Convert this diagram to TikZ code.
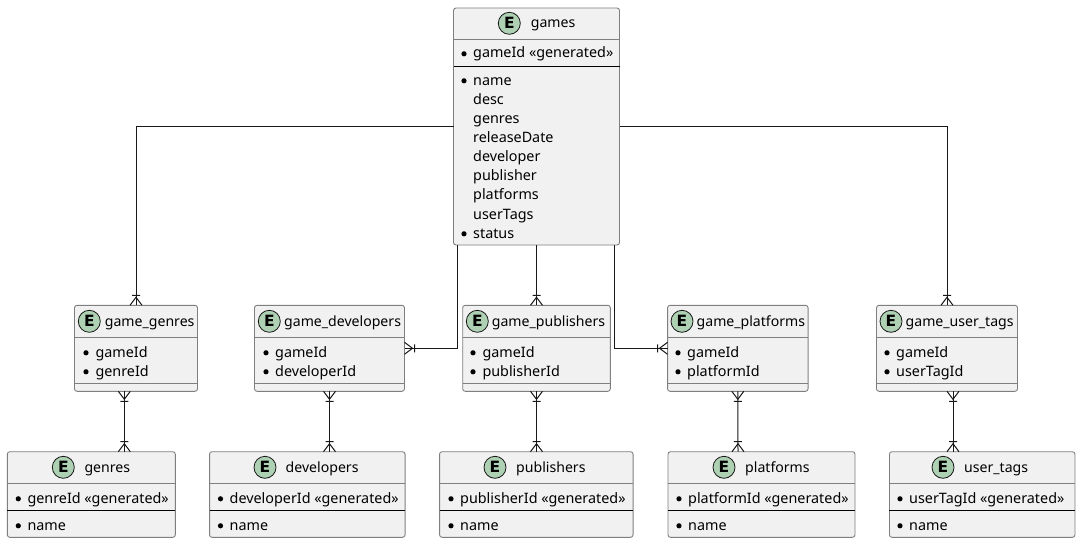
\documentclass[tikz,border=0pt]{standalone}
\usepackage{fontspec}
\setmainfont{Noto Sans}
\newfontfamily\spotfont{DejaVu Sans}
\usetikzlibrary{arrows.meta}
\definecolor{entityfill}{HTML}{F1F1F1}
\definecolor{entityedge}{HTML}{7F7F7F}
\definecolor{spotgreen}{HTML}{ADD1B2}
\definecolor{relink}{HTML}{181818}

\pgfdeclarearrow{
  name=crowbar,
  setup code={\pgfarrowssettipend{0pt}\pgfarrowssetlineend{0pt}\pgfarrowssetbackend{-10pt}\pgfarrowssetvisualbackend{-10pt}},
  drawing code={
    \pgfsetdash{}{0pt}
    \pgfpathmoveto{\pgfqpoint{0pt}{6pt}}
    \pgfpathlineto{\pgfqpoint{-8pt}{0pt}}
    \pgfpathlineto{\pgfqpoint{0pt}{-6pt}}
    \pgfpathmoveto{\pgfqpoint{-10pt}{4pt}}
    \pgfpathlineto{\pgfqpoint{-10pt}{-4pt}}
    \pgfusepathqstroke
  }
}

\tikzset{
  entitybox/.style={draw=entityedge,fill=entityfill,line width=.9pt,rounded corners=2.5pt,inner sep=0pt,outer sep=0pt},
  spot/.style={circle,draw=relink,fill=spotgreen,line width=.8pt,minimum size=22pt,inner sep=0pt,font=\spotfont\fontsize{15.5}{15.5}\selectfont\bfseries},
  entitytext/.style={anchor=base west,inner sep=0pt,text=black},
  titletext/.style={entitytext,font=\fontsize{14.1}{17}\selectfont},
  headrule/.style={draw=entityedge,line width=.9pt},
  keyrule/.style={draw=black,line width=1pt},
  keydot/.style={fill=black},
  rel/.style={draw=relink,line width=1pt},
}

\begin{document}
\begin{tikzpicture}[x=1pt,y=-1pt,font=\fontsize{14.35}{17}\selectfont]
        \useasboundingbox (0,0) rectangle (1078,543);

        \node[entitybox,minimum width=166,minimum height=237] (games) at (536.5,126.5) {};
        \draw[headrule] (games.west |- 0,39.5) -- (games.east |- 0,39.5);
        \draw[keyrule] (games.west |- 0,66.5) -- (games.east |- 0,66.5);
        \node[spot] (gamesspot) at (509.3,23.3) {E};
        \node[titletext] (gamestitle) at (530.7,28) {games};
        \fill[keydot] (464,53.8) circle (2.6);
        \node[entitytext] (gameskey) at (473,58) {gameId «generated»};
        \fill[keydot] (464,80.8) circle (2.6);
        \node[entitytext] (gamesname) at (473,85) {name};
        \node[entitytext] (gamesdesc) at (473,104) {desc};
        \node[entitytext] (gamesgenres) at (473,123) {genres};
        \node[entitytext] (gamesdate) at (473,142) {releaseDate};
        \node[entitytext] (gamesdev) at (473,161) {developer};
        \node[entitytext] (gamespub) at (473,180) {publisher};
        \node[entitytext] (gamesplat) at (473,199) {platforms};
        \node[entitytext] (gamestags) at (473,219) {userTags};
        \fill[keydot] (464,233.8) circle (2.6);
        \node[entitytext] (gamesstatus) at (473,238) {status};

        \node[entitybox,minimum width=123,minimum height=86] (gamegenres) at (136,348.3) {};
        \draw[headrule] (gamegenres.west |- 0,337.3) -- (gamegenres.east |- 0,337.3);
        \draw[headrule] (gamegenres.west |- 0,383.3) -- (gamegenres.east |- 0,383.3);
        \node[spot] (gamegenresspot) at (89.3,321.3) {E};
        \node[titletext] (gamegenrestitle) at (104.7,326) {game\_genres};
        \fill[keydot] (86,352.8) circle (2.6);
        \node[entitytext] (gamegenresa) at (95.3,357) {gameId};
        \fill[keydot] (86,371.8) circle (2.6);
        \node[entitytext] (gamegenresb) at (95.3,376) {genreId};

        \node[entitybox,minimum width=150,minimum height=86] (gamedevelopers) at (329.5,348.3) {};
        \draw[headrule] (gamedevelopers.west |- 0,337.3) -- (gamedevelopers.east |- 0,337.3);
        \draw[headrule] (gamedevelopers.west |- 0,383.3) -- (gamedevelopers.east |- 0,383.3);
        \node[spot] (gamedevelopersspot) at (269.3,321.3) {E};
        \node[titletext] (gamedeveloperstitle) at (284,326) {game\_developers};
        \fill[keydot] (266,352.8) circle (2.6);
        \node[entitytext] (gamedevelopersa) at (275,357) {gameId};
        \fill[keydot] (266,371.8) circle (2.6);
        \node[entitytext] (gamedevelopersb) at (275,376) {developerId};

        \node[entitybox,minimum width=147.6,minimum height=86] (gamepublishers) at (536.5,348.3) {};
        \draw[headrule] (gamepublishers.west |- 0,337.3) -- (gamepublishers.east |- 0,337.3);
        \draw[headrule] (gamepublishers.west |- 0,383.3) -- (gamepublishers.east |- 0,383.3);
        \node[spot] (gamepublishersspot) at (477.3,321.3) {E};
        \node[titletext] (gamepublisherstitle) at (491.7,326) {game\_publishers};
        \fill[keydot] (473,352.8) circle (2.6);
        \node[entitytext] (gamepublishersa) at (482.3,357) {gameId};
        \fill[keydot] (473,371.8) circle (2.6);
        \node[entitytext] (gamepublishersb) at (482.3,376) {publisherId};

        \node[entitybox,minimum width=140.5,minimum height=86] (gameplatforms) at (737.8,348.3) {};
        \draw[headrule] (gameplatforms.west |- 0,337.3) -- (gameplatforms.east |- 0,337.3);
        \draw[headrule] (gameplatforms.west |- 0,383.3) -- (gameplatforms.east |- 0,383.3);
        \node[spot] (gameplatformsspot) at (682,321.3) {E};
        \node[titletext] (gameplatformstitle) at (696.5,326) {game\_platforms};
        \fill[keydot] (678,352.8) circle (2.6);
        \node[entitytext] (gameplatformsa) at (687,357) {gameId};
        \fill[keydot] (678,371.8) circle (2.6);
        \node[entitytext] (gameplatformsb) at (687,376) {platformId};

        \node[entitybox,minimum width=141,minimum height=86] (gameusertags) at (947,348.3) {};
        \draw[headrule] (gameusertags.west |- 0,337.3) -- (gameusertags.east |- 0,337.3);
        \draw[headrule] (gameusertags.west |- 0,383.3) -- (gameusertags.east |- 0,383.3);
        \node[spot] (gameusertagsspot) at (891,321.3) {E};
        \node[titletext] (gameusertagstitle) at (905.5,326) {game\_user\_tags};
        \fill[keydot] (887,352.8) circle (2.6);
        \node[entitytext] (gameusertagsa) at (896,357) {gameId};
        \fill[keydot] (887,371.8) circle (2.6);
        \node[entitytext] (gameusertagsb) at (896,376) {userTagId};

        \node[entitybox,minimum width=168,minimum height=85.6] (genres) at (91.3,494.5) {};
        \draw[headrule] (genres.west |- 0,483.3) -- (genres.east |- 0,483.3);
        \draw[keyrule] (genres.west |- 0,510.5) -- (genres.east |- 0,510.5);
        \node[spot] (genresspot) at (63.3,467.3) {E};
        \node[titletext] (genrestitle) at (84.3,472) {genres};
        \fill[keydot] (18.3,498.8) circle (2.6);
        \node[entitytext] (genreskey) at (27.3,503) {genreId «generated»};
        \fill[keydot] (18.3,525.8) circle (2.6);
        \node[entitytext] (genresname) at (27.3,530) {name};

        \node[entitybox,minimum width=195.5,minimum height=85.6] (developers) at (307.3,494.5) {};
        \draw[headrule] (developers.west |- 0,483.3) -- (developers.east |- 0,483.3);
        \draw[keyrule] (developers.west |- 0,510.5) -- (developers.east |- 0,510.5);
        \node[spot] (developersspot) at (265,467.3) {E};
        \node[titletext] (developerstitle) at (285.5,472) {developers};
        \fill[keydot] (220.5,498.8) circle (2.6);
        \node[entitytext] (developerskey) at (229.5,503) {developerId «generated»};
        \fill[keydot] (220.5,525.8) circle (2.6);
        \node[entitytext] (developersname) at (229.5,530) {name};

        \node[entitybox,minimum width=193.5,minimum height=85.6] (publishers) at (536.3,494.5) {};
        \draw[headrule] (publishers.west |- 0,483.3) -- (publishers.east |- 0,483.3);
        \draw[keyrule] (publishers.west |- 0,510.5) -- (publishers.east |- 0,510.5);
        \node[spot] (publishersspot) at (495,467.3) {E};
        \node[titletext] (publisherstitle) at (516,472) {publishers};
        \fill[keydot] (451,498.8) circle (2.6);
        \node[entitytext] (publisherskey) at (460,503) {publisherId «generated»};
        \fill[keydot] (451,525.8) circle (2.6);
        \node[entitytext] (publishersname) at (460,530) {name};

        \node[entitybox,minimum width=187,minimum height=85.6] (platforms) at (761.5,494.5) {};
        \draw[headrule] (platforms.west |- 0,483.3) -- (platforms.east |- 0,483.3);
        \draw[keyrule] (platforms.west |- 0,510.5) -- (platforms.east |- 0,510.5);
        \node[spot] (platformsspot) at (724,467.3) {E};
        \node[titletext] (platformstitle) at (745,472) {platforms};
        \fill[keydot] (679,498.8) circle (2.6);
        \node[entitytext] (platformskey) at (688,503) {platformId «generated»};
        \fill[keydot] (679,525.8) circle (2.6);
        \node[entitytext] (platformsname) at (688,530) {name};

        \node[entitybox,minimum width=185.5,minimum height=85.6] (usertags) at (982.2,494.5) {};
        \draw[headrule] (usertags.west |- 0,483.3) -- (usertags.east |- 0,483.3);
        \draw[keyrule] (usertags.west |- 0,510.5) -- (usertags.east |- 0,510.5);
        \node[spot] (usertagsspot) at (943,467.3) {E};
        \node[titletext] (usertagstitle) at (964,472) {user\_tags};
        \fill[keydot] (900,498.8) circle (2.6);
        \node[entitytext] (usertagskey) at (909,503) {userTagId «generated»};
        \fill[keydot] (900,525.8) circle (2.6);
        \node[entitytext] (usertagsname) at (909,530) {name};

        \draw[rel,-crowbar] (games.west) -| (gamegenres.north);
        \draw[rel,-crowbar] (games.east) -| (gameusertags.north);
        \draw[rel,-crowbar] (games.south) -- (gamepublishers.north);
        \draw[rel,-crowbar] ([xshift=-78.8]games.south) |- (gamedevelopers.east);
        \draw[rel,-crowbar] ([xshift=78]games.south) |- (gameplatforms.west);

        \draw[rel,crowbar-crowbar] ([xshift=-11.7]gamegenres.south) -- ([xshift=33]genres.north);
        \draw[rel,crowbar-crowbar] (gamedevelopers.south) -- ([xshift=22.2]developers.north);
        \draw[rel,crowbar-crowbar] (gamepublishers.south) -- ([xshift=.2]publishers.north);
        \draw[rel,crowbar-crowbar] (gameplatforms.south) -- ([xshift=-23.5]platforms.north);
        \draw[rel,crowbar-crowbar] ([xshift=6]gameusertags.south) -- ([xshift=-29.2]usertags.north);
      \end{tikzpicture}
\end{document}
